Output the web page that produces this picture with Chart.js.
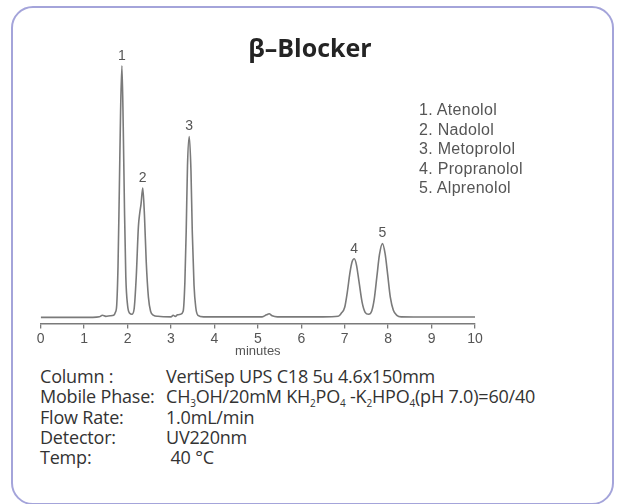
<!DOCTYPE html>
<html>
<head>
    <title>beta-Blocker chromatogram</title>
    <script src="https://cdn.jsdelivr.net/npm/chart.js"></script>
    <style>
        body {
            margin: 0;
            background: #fff;
            width: 617px;
            height: 504px;
            overflow: hidden;
            position: relative;
        }
        .card {
            position: absolute;
            left: 11px;
            top: 6px;
            width: 603px;
            height: 499px;
            box-sizing: border-box;
            border: 2.5px solid #a4a4da;
            border-radius: 22px;
        }
        .chart-box {
            position: absolute;
            left: 0;
            top: 0;
            width: 617px;
            height: 362px;
        }
        .title {
            position: absolute;
            left: 0;
            width: 620px;
            top: 30px;
            text-align: center;
            font-family: "Open Sans", sans-serif;
            font-weight: bold;
            font-size: 25px;
            line-height: 34px;
            color: #242424;
        }
        .compounds {
            position: absolute;
            left: 419px;
            top: 100px;
            font-family: "Liberation Sans", Arial, sans-serif;
            font-size: 16px;
            letter-spacing: 0.3px;
            line-height: 19.5px;
            color: #555;
        }
        .conditions {
            position: absolute;
            left: 40px;
            top: 366px;
            font-family: "Open Sans", sans-serif;
            font-size: 18px;
            letter-spacing: -0.2px;
            line-height: 20.3px;
            color: #333;
        }
        .conditions .row {
            position: relative;
            height: 20.3px;
            white-space: nowrap;
        }
        .conditions .val {
            position: absolute;
            left: 126px;
            top: 0;
        }
        .sb {
            font-size: 10px;
            position: relative;
            top: 4px;
        }
    </style>
</head>
<body>
    <div class="card"></div>
    <div class="chart-box"><canvas id="chrom"></canvas></div>
    <div class="title">β–Blocker</div>
    <div class="compounds" id="compounds"></div>
    <div class="conditions" id="conditions"></div>

    <script>
        // retention time (min) and detector signal
        const times = [0, 1.2, 1.35, 1.42, 1.5, 1.6, 1.68, 1.72,
            1.75, 1.78, 1.81, 1.84, 1.87, 1.90, 1.93, 1.96, 2.0, 2.05, 2.1,
            2.15, 2.2, 2.25, 2.28, 2.31, 2.35, 2.39, 2.43, 2.48, 2.53, 2.6, 2.7,
            3.0, 3.05, 3.1, 3.15, 3.22,
            3.28, 3.32, 3.35, 3.38, 3.42, 3.46, 3.49, 3.53, 3.57, 3.62, 3.75,
            4.5, 5.1, 5.2, 5.26, 5.33, 5.45, 6.5, 6.85, 6.92,
            7.0, 7.06, 7.12, 7.17, 7.22, 7.27, 7.33, 7.4, 7.47, 7.55,
            7.62, 7.68, 7.74, 7.8, 7.87, 7.93, 7.99, 8.05, 8.12, 8.2, 8.3, 9.0, 10];
        const signal = [0, 0, 0.5, 2, 1, 1.5, 2, 5,
            12, 50, 125, 205, 249, 190, 105, 40, 12, 4, 3,
            8, 40, 90, 103, 112, 128, 100, 55, 20, 6, 2, 1,
            0.5, 2, 1, 2.5, 3,
            6, 35, 85, 150, 179, 145, 85, 32, 10, 2, 0.5,
            0.5, 0.5, 2.5, 3.5, 1.5, 0.5, 0.5, 1, 4,
            10, 25, 44, 55, 58, 52, 35, 15, 5, 3,
            6, 18, 40, 62, 73, 63, 42, 20, 7, 2, 0.5, 0.3, 0.3];

        const peakLabels = ['1', '2', '3', '4', '5'];
        const peakTimes = [1.87, 2.35, 3.42, 7.22, 7.87];
        const peakHeights = [249, 128, 179, 58, 73];

        const compounds = ['Atenolol', 'Nadolol', 'Metoprolol', 'Propranolol', 'Alprenolol'];

        const conditionLabels = ['Column :', 'Mobile Phase:', 'Flow Rate:', 'Detector:', 'Temp:'];
        const conditionValues = [
            'VertiSep UPS C18 5u 4.6x150mm',
            'CH<span class="sb">3</span>OH/20mM KH<span class="sb">2</span>PO<span class="sb">4</span> -K<span class="sb">2</span>HPO<span class="sb">4</span>(pH 7.0)=60/40',
            '1.0mL/min',
            'UV220nm',
            '&nbsp;40 °C'
        ];

        const tickValues = [0, 1, 2, 3, 4, 5, 6, 7, 8, 9, 10];
        const xTitle = 'minutes';

        document.getElementById('compounds').innerHTML =
            compounds.map((c, i) => `<div>${i + 1}. ${c}</div>`).join('');

        document.getElementById('conditions').innerHTML =
            conditionLabels.map((l, i) =>
                `<div class="row"><span>${l}</span><span class="val">${conditionValues[i]}</span></div>`).join('');

        // numbers above each peak
        const peakNumbers = {
            id: 'peakNumbers',
            afterDatasetsDraw(chart) {
                const ctx = chart.ctx;
                const xs = chart.scales.x, ys = chart.scales.y;
                ctx.save();
                ctx.font = '14px "Liberation Sans", Arial, sans-serif';
                ctx.fillStyle = '#555';
                ctx.textAlign = 'center';
                ctx.textBaseline = 'bottom';
                peakLabels.forEach((lab, i) => {
                    ctx.fillText(lab, xs.getPixelForValue(peakTimes[i]), ys.getPixelForValue(peakHeights[i]) - 3);
                });
                ctx.restore();
            }
        };

        new Chart(document.getElementById('chrom'), {
            type: 'line',
            data: {
                datasets: [{
                    data: times.map((t, i) => ({x: t, y: signal[i]})),
                    borderColor: '#7a7a7a',
                    borderWidth: 1.6,
                    pointRadius: 0,
                    fill: false,
                    cubicInterpolationMode: 'monotone'
                }]
            },
            options: {
                responsive: true,
                maintainAspectRatio: false,
                animation: false,
                layout: {padding: {left: 40.7, right: 142, top: 40, bottom: 0}},
                plugins: {
                    legend: {display: false},
                    tooltip: {enabled: false}
                },
                scales: {
                    x: {
                        type: 'linear',
                        min: 0,
                        max: 10,
                        afterBuildTicks: (axis) => { axis.ticks = tickValues.map(v => ({value: v})); },
                        border: {display: true, color: '#7a7a7a', width: 1.5},
                        grid: {display: true, drawOnChartArea: false, drawTicks: true, tickLength: 5, color: '#7a7a7a', lineWidth: 1.3},
                        ticks: {
                            padding: 2,
                            maxRotation: 0,
                            autoSkip: false,
                            color: '#555',
                            font: {family: '"Liberation Sans", Arial, sans-serif', size: 14}
                        },
                        title: {
                            display: true,
                            text: xTitle,
                            color: '#555',
                            padding: {top: -6, bottom: 3},
                            font: {family: '"Liberation Sans", Arial, sans-serif', size: 13}
                        }
                    },
                    y: {
                        display: false,
                        min: -6.2,
                        max: 274.5
                    }
                }
            },
            plugins: [peakNumbers]
        });
    </script>
</body>
</html>
